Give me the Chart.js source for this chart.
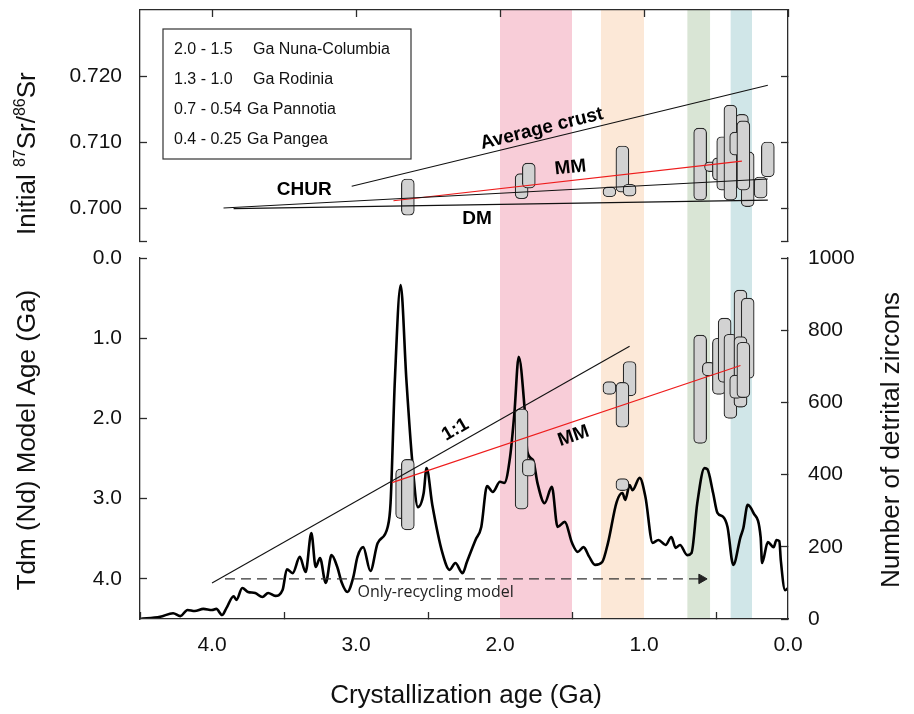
<!DOCTYPE html>
<html lang="en">
<head>
    <meta charset="UTF-8">
    <title>Crystallization age, Sr and Nd isotopes and detrital zircons</title>
    <script src="https://cdn.jsdelivr.net/npm/chart.js"></script>
    <style>
        html, body { margin: 0; padding: 0; background: #fff; }
        #wrap { width: 914px; height: 714px; }
    </style>
</head>
<body>
<div id="wrap"><canvas id="ageChart" width="914" height="714"></canvas></div>
<script>
    // supercontinent windows (Ga)
    const bandNames = ['Nuna-Columbia', 'Rodinia', 'Pannotia', 'Pangea'];
    const bandStart = [2.0, 1.3, 0.7, 0.4];
    const bandEnd = [1.5, 1.0, 0.54, 0.25];
    const bandColors = ['#f8cdd8', '#fce8d7', '#d9e5d5', '#d0e6e8'];

    // number of detrital zircons vs crystallization age
    const zirconAge = [4.50, 4.36, 4.27, 4.22, 4.17, 4.12, 4.06, 4.00, 3.97, 3.93, 3.90, 3.85, 3.83, 3.79,
        3.75, 3.70, 3.65, 3.61, 3.56, 3.51, 3.48, 3.44, 3.39, 3.35, 3.31, 3.28, 3.25, 3.21, 3.17, 3.13,
        3.10, 3.06, 3.02, 2.99, 2.95, 2.90, 2.85, 2.78, 2.76, 2.73, 2.69, 2.65, 2.61, 2.57, 2.53, 2.51,
        2.47, 2.40, 2.35, 2.31, 2.26, 2.23, 2.17, 2.13, 2.09, 2.05, 2.00, 1.97, 1.93, 1.90, 1.87, 1.83,
        1.81, 1.77, 1.74, 1.69, 1.64, 1.60, 1.55, 1.50, 1.46, 1.42, 1.38, 1.34, 1.29, 1.25, 1.19, 1.15,
        1.13, 1.10, 1.08, 1.03, 0.99, 0.94, 0.90, 0.85, 0.81, 0.78, 0.75, 0.70, 0.67, 0.63, 0.58, 0.56,
        0.52, 0.49, 0.45, 0.42, 0.38, 0.33, 0.31, 0.28, 0.24, 0.19, 0.18, 0.14, 0.10, 0.08, 0.06, 0.05,
        0.02, 0.00];
    const zirconCount = [0, 6, 16, 8, 25, 22, 28, 25, 28, 11, 30, 63, 53, 86,
        75, 72, 61, 72, 64, 80, 138, 127, 172, 130, 238, 144, 169, 100, 177, 144,
        102, 75, 114, 172, 199, 133, 210, 255, 321, 662, 925, 662, 440, 310, 349, 418,
        316, 183, 136, 155, 127, 158, 219, 255, 368, 352, 380, 377, 449, 571, 726, 587,
        463, 440, 377, 321, 366, 255, 269, 211, 186, 199, 172, 150, 158, 211, 324, 349,
        330, 371, 357, 391, 338, 211, 219, 205, 227, 197, 205, 177, 183, 321, 418, 415,
        349, 294, 283, 255, 150, 227, 252, 316, 294, 227, 155, 213, 199, 219, 216, 163,
        80, 86];

    // Sr panel reference lines
    const avgCrustAge = [3.03, 0.14];
    const avgCrustSr = [0.7033, 0.7186];
    const churAge = [3.92, 0.14];
    const churSr = [0.7000, 0.7044];
    const dmAge = [3.85, 0.14];
    const dmSr = [0.6999, 0.7012];
    const mmSrAge = [2.74, 0.32];
    const mmSr = [0.7011, 0.7071];

    // initial 87Sr/86Sr ranges
    const srBoxAge = [2.64, 1.85, 1.80, 1.24, 1.15, 1.10, 0.61, 0.535, 0.48, 0.45, 0.32, 0.28, 0.40, 0.36, 0.31, 0.19, 0.14];
    const srBoxLow = [0.6989, 0.7014, 0.7030, 0.7017, 0.7024, 0.7018, 0.7012, 0.7055, 0.7042, 0.7027, 0.7040, 0.7002, 0.7012, 0.7080, 0.7027, 0.7015, 0.7047];
    const srBoxHigh = [0.7044, 0.7052, 0.7068, 0.7032, 0.7094, 0.7036, 0.7121, 0.7070, 0.7076, 0.7108, 0.7142, 0.7085, 0.7156, 0.7115, 0.7132, 0.7047, 0.7100];

    // Nd model age ranges
    const ndBoxAge = [2.68, 2.64, 1.85, 1.80, 1.24, 1.10, 1.15, 1.15, 0.61, 0.55, 0.48, 0.44, 0.40, 0.33, 0.28, 0.33, 0.36, 0.31];
    const ndBoxLow = [2.63, 2.51, 1.88, 2.51, 1.54, 1.29, 1.55, 2.75, 0.96, 1.30, 1.00, 0.75, 0.95, 0.40, 0.50, 0.98, 1.46, 1.05];
    const ndBoxHigh = [3.25, 3.39, 3.13, 2.72, 1.70, 1.72, 2.11, 2.90, 2.31, 1.47, 1.70, 1.55, 2.00, 1.86, 1.50, 1.86, 1.75, 1.74];

    // Nd panel reference lines
    const oneToOneAge = [4.0, 1.1];
    const oneToOneTdm = [4.05, 1.1];
    const mmNdAge = [2.75, 0.33];
    const mmTdm = [2.80, 1.34];
    const recyclingAge = [3.91, 0.60];
    const recyclingTdm = [4.0, 4.0];

    // tick labels
    const ageTicks = [0, 1, 2, 3, 4];
    const srTicks = [0.695, 0.700, 0.710, 0.720];
    const tdmTicks = [0, 1, 2, 3, 4];
    const zirconTicks = [0, 200, 400, 600, 800, 1000];

    const FONT = 'Liberation Sans, Arial, sans-serif';
    const axisColor = '#2b2b2b';
    const tickFont = { family: FONT, size: 21 };

    function pts(xs, ys) {
        return xs.map((x, i) => ({ x: x, y: ys[i] }));
    }

    function fixedTicks(values) {
        return scale => { scale.ticks = values.map(v => ({ value: v })); };
    }

    // fixed axis size, no extra padding for label overflow
    function fixSize(w, h) {
        return s => {
            if (w !== null) s.width = w;
            if (h !== null) s.height = h;
            s.paddingTop = 0; s.paddingBottom = 0; s.paddingLeft = 0; s.paddingRight = 0;
        };
    }

    function lineSet(xs, ys, axis, color) {
        return {
            type: 'line', data: pts(xs, ys), yAxisID: axis,
            borderColor: color, borderWidth: 1.1, pointRadius: 0, fill: false, order: 2
        };
    }

    const edge = { color: axisColor, width: 1.3, z: 1 };
    const inwardTicks = { drawOnChartArea: false, drawTicks: true, tickLength: -7, tickColor: axisColor, tickWidth: 1.3, z: 1 };
    const noLine = { display: false };

    // text notes drawn on the plot
    const notes = [
        { text: 'Average crust', x: 1.71, y: 0.7120, axis: 'ySr', angle: -14 },
        { text: 'MM', x: 1.51, y: 0.7061, axis: 'ySr', angle: -6 },
        { text: 'CHUR', x: 3.36, y: 0.7027, axis: 'ySr', angle: 0 },
        { text: 'DM', x: 2.16, y: 0.6983, axis: 'ySr', angle: 0 },
        { text: '1:1', x: 2.31, y: 2.14, axis: 'yTdm', angle: -30 },
        { text: 'MM', x: 1.49, y: 2.22, axis: 'yTdm', angle: -19 }
    ];

    function fmtAge(v) {
        return Math.round(v * 10) === v * 10 ? v.toFixed(1) : String(v);
    }

    const decorPlugin = {
        id: 'decor',
        afterDraw(chart) {
            const ctx = chart.ctx;
            const area = chart.chartArea;
            const xs = chart.scales.x;
            ctx.save();

            // bold labels on the lines
            ctx.fillStyle = '#000';
            ctx.font = 'bold 19px ' + FONT;
            ctx.textAlign = 'center';
            ctx.textBaseline = 'middle';
            notes.forEach(n => {
                const px = xs.getPixelForValue(n.x);
                const py = chart.scales[n.axis].getPixelForValue(n.y);
                ctx.save();
                ctx.translate(px, py);
                ctx.rotate(n.angle * Math.PI / 180);
                ctx.fillText(n.text, 0, 0);
                ctx.restore();
            });

            // dashed arrow label
            ctx.font = '16px "Open Sans", sans-serif';
            ctx.fillStyle = '#222';
            ctx.textAlign = 'left';
            ctx.fillText('Only-recycling model', xs.getPixelForValue(2.99), chart.scales.yTdm.getPixelForValue(4.175));

            // legend box
            const bx = area.left + 23, by = area.top + 19;
            ctx.strokeStyle = '#333';
            ctx.lineWidth = 1.2;
            ctx.strokeRect(bx, by, 248, 130);
            ctx.font = '16px ' + FONT;
            ctx.fillStyle = '#111';
            bandNames.forEach((name, i) => {
                const ty = by + 21 + i * 29.7;
                ctx.fillText(fmtAge(bandStart[i]) + ' - ' + fmtAge(bandEnd[i]), bx + 11, ty);
                ctx.fillText('Ga ' + name, bx + (i < 2 ? 90 : 84), ty);
            });

            // axis titles
            ctx.fillStyle = '#111';
            ctx.textBaseline = 'alphabetic';
            const big = '26px ' + FONT, small = '16px ' + FONT;

            ctx.save();
            ctx.translate(35, 235);
            ctx.rotate(-Math.PI / 2);
            let cx = 0;
            [['Initial ', big, 0], ['87', small, -10], ['Sr/', big, 0], ['86', small, -10], ['Sr', big, 0]].forEach(p => {
                ctx.font = p[1];
                ctx.textAlign = 'left';
                ctx.fillText(p[0], cx, p[2]);
                cx += ctx.measureText(p[0]).width;
            });
            ctx.restore();

            ctx.font = big;
            ctx.textAlign = 'center';
            ctx.save();
            ctx.translate(35, 440);
            ctx.rotate(-Math.PI / 2);
            ctx.fillText('Tdm (Nd) Model Age (Ga)', 0, 0);
            ctx.restore();

            ctx.save();
            ctx.translate(899, 440);
            ctx.rotate(-Math.PI / 2);
            ctx.fillText('Number of detrital zircons', 0, 0);
            ctx.restore();

            ctx.fillText('Crystallization age (Ga)', 466, 703);
            ctx.restore();
        }
    };

    const datasets = [];

    bandStart.forEach((s, i) => {
        datasets.push({
            type: 'line', data: [{ x: s, y: 1 }, { x: bandEnd[i], y: 1 }], yAxisID: 'yBand',
            fill: 'origin', backgroundColor: bandColors[i], borderWidth: 0, pointRadius: 0, order: 10
        });
    });

    datasets.push({
        type: 'line', data: pts(zirconAge, zirconCount), yAxisID: 'yN',
        borderColor: '#000', borderWidth: 2.6, pointRadius: 0, fill: false,
        cubicInterpolationMode: 'monotone', order: 8
    });

    const boxStyle = {
        type: 'bar', barThickness: 13, borderRadius: 5, borderSkipped: false, grouped: false,
        borderWidth: 1.2, borderColor: '#2a2a2a', backgroundColor: '#d2d2d2', order: 6
    };
    datasets.push(Object.assign({}, boxStyle, {
        yAxisID: 'ySr',
        data: srBoxAge.map((a, i) => ({ x: a, y: [srBoxLow[i], srBoxHigh[i]] }))
    }));
    datasets.push(Object.assign({}, boxStyle, {
        yAxisID: 'yTdm',
        data: ndBoxAge.map((a, i) => ({ x: a, y: [ndBoxLow[i], ndBoxHigh[i]] }))
    }));

    datasets.push(lineSet(avgCrustAge, avgCrustSr, 'ySr', '#111'));
    datasets.push(lineSet(churAge, churSr, 'ySr', '#111'));
    datasets.push(lineSet(dmAge, dmSr, 'ySr', '#111'));
    datasets.push(lineSet(mmSrAge, mmSr, 'ySr', '#ee1c1c'));
    datasets.push(lineSet(oneToOneAge, oneToOneTdm, 'yTdm', '#111'));
    datasets.push(lineSet(mmNdAge, mmTdm, 'yTdm', '#ee1c1c'));
    datasets.push({
        type: 'line', data: pts(recyclingAge, recyclingTdm), yAxisID: 'yTdm',
        borderColor: '#333', borderWidth: 1.2, borderDash: [10, 6], fill: false,
        pointRadius: [0, 5.5], pointStyle: 'triangle', pointRotation: 90,
        pointBackgroundColor: '#222', pointBorderColor: '#222', pointBorderWidth: 1, order: 2
    });

    new Chart(document.getElementById('ageChart'), {
        type: 'line',
        data: { datasets: datasets },
        options: {
            responsive: false,
            animation: false,
            events: [],
            layout: { padding: 0 },
            plugins: { legend: { display: false }, tooltip: { enabled: false } },
            scales: {
                x: {
                    type: 'linear', position: 'bottom', reverse: true, min: 0, max: 4.5, offset: false,
                    afterBuildTicks: fixedTicks(ageTicks),
                    afterFit: fixSize(null, 95),
                    border: edge, grid: inwardTicks,
                    ticks: { font: tickFont, color: '#111', padding: 21, maxRotation: 0, autoSkip: false, callback: v => v.toFixed(1) }
                },
                xTop: {
                    type: 'linear', position: 'top', reverse: true, min: 0, max: 4.5, offset: false,
                    afterBuildTicks: fixedTicks(ageTicks),
                    afterFit: fixSize(null, 10),
                    border: edge, grid: inwardTicks,
                    ticks: { display: false }
                },
                ySr: {
                    type: 'linear', position: 'left', stack: 'left', stackWeight: 231, weight: 3,
                    min: 0.695, max: 0.730,
                    afterBuildTicks: fixedTicks(srTicks),
                    afterFit: fixSize(140, null),
                    border: edge, grid: inwardTicks,
                    ticks: { font: tickFont, color: '#111', padding: 25, autoSkip: false, callback: v => v === 0.695 ? '' : v.toFixed(3) }
                },
                yGapL: {
                    type: 'linear', position: 'left', stack: 'left', stackWeight: 17, weight: 2,
                    min: 0, max: 1, afterFit: fixSize(140, null),
                    border: noLine, grid: noLine, ticks: { display: false }
                },
                yTdm: {
                    type: 'linear', position: 'left', stack: 'left', stackWeight: 361, weight: 1,
                    reverse: true, min: 0, max: 4.5,
                    afterBuildTicks: fixedTicks(tdmTicks),
                    afterFit: fixSize(140, null),
                    border: edge, grid: inwardTicks,
                    ticks: { font: tickFont, color: '#111', padding: 25, autoSkip: false, callback: v => v.toFixed(1) }
                },
                ySrR: {
                    type: 'linear', position: 'right', stack: 'right', stackWeight: 231, weight: 1,
                    min: 0.695, max: 0.730,
                    afterBuildTicks: fixedTicks(srTicks),
                    afterFit: fixSize(126, null),
                    border: edge, grid: inwardTicks,
                    ticks: { display: false }
                },
                yGapR: {
                    type: 'linear', position: 'right', stack: 'right', stackWeight: 17, weight: 2,
                    min: 0, max: 1, afterFit: fixSize(126, null),
                    border: noLine, grid: noLine, ticks: { display: false }
                },
                yN: {
                    type: 'linear', position: 'right', stack: 'right', stackWeight: 361, weight: 3,
                    min: 0, max: 1000,
                    afterBuildTicks: fixedTicks(zirconTicks),
                    afterFit: fixSize(126, null),
                    border: edge, grid: inwardTicks,
                    ticks: { font: tickFont, color: '#111', padding: 27, autoSkip: false, callback: v => String(v) }
                },
                yBand: { type: 'linear', display: false, position: 'right', min: 0, max: 1 }
            }
        },
        plugins: [decorPlugin]
    });
</script>
</body>
</html>
